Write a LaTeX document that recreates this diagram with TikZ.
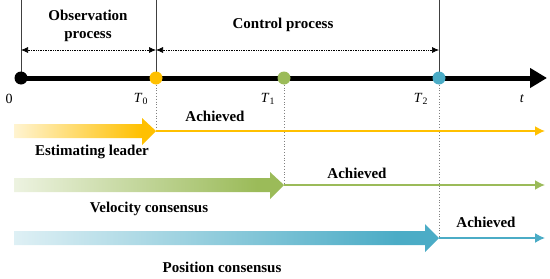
\documentclass[tikz,border=0pt]{standalone}
\usepackage{fontspec}
\setmainfont{Liberation Serif}
\usetikzlibrary{arrows.meta}
\definecolor{orng}{HTML}{FFC000}
\definecolor{grn}{HTML}{9BBB59}
\definecolor{blu}{HTML}{4BACC6}
\definecolor{vline}{HTML}{404040}
\pgfdeclarehorizontalshading{orsh}{100bp}{color(0bp)=(white); color(15bp)=(white); color(70bp)=(orng); color(100bp)=(orng)}
\pgfdeclarehorizontalshading{grsh}{100bp}{color(0bp)=(white); color(15bp)=(white); color(70bp)=(grn); color(100bp)=(grn)}
\pgfdeclarehorizontalshading{blsh}{100bp}{color(0bp)=(white); color(15bp)=(white); color(70bp)=(blu); color(100bp)=(blu)}
\begin{document}
\begin{tikzpicture}[x=1pt,y=-1pt,
  lbl/.style={font=\bfseries\fontsize{15}{18}\selectfont, inner sep=0pt},
  tlbl/.style={font=\fontsize{14}{16}\selectfont, inner sep=0pt},
  dot/.style={circle, inner sep=0pt, minimum size=13pt},
  vl/.style={vline, line width=0.9pt},
  dl/.style={gray, line width=0.8pt, dotted},
  span/.style={black, line width=0.7pt, densely dotted, {Latex[length=7pt,width=6pt]}-{Latex[length=7pt,width=6pt]}},
  ach/.style={-{Latex[length=10pt,width=10pt]}, line width=1.8pt}
]
\useasboundingbox (0,0) rectangle (550,279);

% coordinates
\coordinate (top0) at (21,0);
\coordinate (top1) at (156,0);
\coordinate (top2) at (439,0);
\coordinate (tend) at (547,78);
\coordinate (a0l) at (21,50);
\coordinate (a0r) at (156,50);
\coordinate (a1r) at (439,50);
\coordinate (oe) at (545,131);
\coordinate (ge) at (545,185);
\coordinate (be) at (545,238);

% vertical solid lines
\draw[vl] (top0) -- (21,78);
\draw[vl] (top1) -- (156,78);
\draw[vl] (top2) -- (439,78);

% span arrows
\draw[span] (a0l) -- (a0r);
\draw[span] (a0r) -- (a1r);

% timeline
\draw[line width=5pt, -{Triangle[length=17pt,width=19pt]}] (21,78) -- (tend);

% dots
\node[dot, fill=black] (o) at (21,78) {};
\node[dot, fill=orng] (t0) at (156,78) {};
\node[dot, fill=grn] (t1) at (284,78) {};
\node[dot, fill=blu] (t2) at (439,78) {};

% big gradient arrows
\shade[shading=orsh] (14,124) -- (142,124) -- (142,118) -- (156,131) -- (142,145) -- (142,138) -- (14,138) -- cycle;
\shade[shading=grsh] (14,178) -- (270,178) -- (270,172) -- (284,185) -- (270,199) -- (270,192) -- (14,192) -- cycle;
\shade[shading=blsh] (14,231) -- (425,231) -- (425,224) -- (439,238) -- (425,252) -- (425,245) -- (14,245) -- cycle;

\coordinate (ot) at (156,131);
\coordinate (gt) at (284,185);
\coordinate (bt) at (439,238);

% dotted verticals
\draw[dl] (t0) -- (ot);
\draw[dl] (t1) -- (gt);
\draw[dl] (t2) -- (bt);

% achieved lines
\draw[ach, orng] (ot) -- (oe);
\draw[ach, grn] (gt) -- (ge);
\draw[ach, blu, line width=1.5pt] (bt) -- (be);

% texts
\node[lbl, align=center] (obs) at (88,26) {Observation\\process};
\node[lbl] (ctl) at (283,25) {Control process};
\node[tlbl] (l0) at (9,99) {0};
\node[tlbl] (lT0) at (141,99) {\textit{T}\textsubscript{0}};
\node[tlbl] (lT1) at (268,99) {\textit{T}\textsubscript{1}};
\node[tlbl] (lT2) at (421,99) {\textit{T}\textsubscript{2}};
\node[tlbl] (lt) at (522,99) {\textit{t}};
\node[lbl] (ach1) at (215,116) {Achieved};
\node[lbl] (ach2) at (357,173) {Achieved};
\node[lbl] (ach3) at (486,222) {Achieved};
\node[lbl] (est) at (92,152) {Estimating leader};
\node[lbl] (vel) at (149,209) {Velocity consensus};
\node[lbl] (pos) at (222,267) {Position consensus};
\end{tikzpicture}
\end{document}
